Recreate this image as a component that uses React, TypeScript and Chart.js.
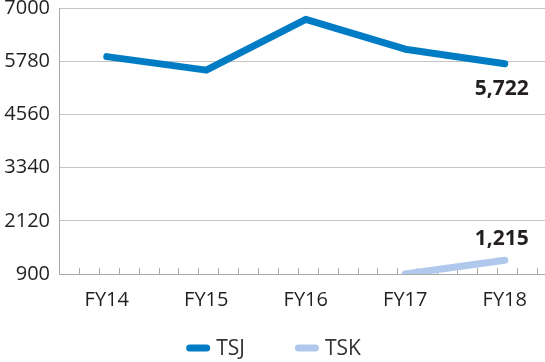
import React, { useEffect, useRef } from "react";
import { Chart, registerables } from "chart.js";

Chart.register(...registerables);

const categories = ["FY14", "FY15", "FY16", "FY17", "FY18"];
const seriesNames = ["TSJ", "TSK"];
const tsjValues: (number | null)[] = [5885, 5575, 6740, 6055, 5722];
const tskValues: (number | null)[] = [null, null, null, 900, 1215];
const yTickValues = [900, 2120, 3340, 4560, 5780, 7000];
const seriesColors = ["#007cc5", "#afc8eb"];

const FONT = "'Open Sans', 'Noto Sans', sans-serif";
const TEXT = "#231f20";

const toPoints = (vals: (number | null)[]) =>
  vals.map((v, i) => ({ x: i, y: v }));

const fmt = (v: number) => v.toLocaleString("en-US");

const minorTicksPlugin = {
  id: "minorTicks",
  beforeDatasetsDraw(chart: any) {
    const xs = chart.scales.x;
    const ctx = chart.ctx;
    const bottom = chart.chartArea.bottom;
    ctx.save();
    ctx.strokeStyle = "#a8a8a8";
    ctx.lineWidth = 1;
    const step = 0.2;
    for (let v = xs.min + step; v < xs.max - 0.01; v += step) {
      const px = Math.round(xs.getPixelForValue(v)) + 0.5;
      ctx.beginPath();
      ctx.moveTo(px, bottom);
      ctx.lineTo(px, bottom - 6);
      ctx.stroke();
    }
    ctx.restore();
  },
};

const lastLabelPlugin = {
  id: "lastLabels",
  afterDatasetsDraw(chart: any) {
    const ctx = chart.ctx;
    ctx.save();
    ctx.font = `bold 21px ${FONT}`;
    ctx.fillStyle = TEXT;
    ctx.textAlign = "center";
    ctx.textBaseline = "middle";
    chart.data.datasets.forEach((ds: any, di: number) => {
      const meta = chart.getDatasetMeta(di);
      const idx = ds.data.length - 1;
      const pt = meta.data[idx];
      const val = ds.data[idx].y;
      if (!pt || val == null) return;
      const dy = di === 0 ? 25 : -21;
      ctx.fillText(fmt(val), pt.x - 3, pt.y + dy);
    });
    ctx.restore();
  },
};

const legendPlugin = {
  id: "customLegend",
  afterDraw(chart: any) {
    const ctx = chart.ctx;
    ctx.save();
    ctx.font = `21px ${FONT}`;
    ctx.textBaseline = "middle";
    ctx.textAlign = "left";
    const boxW = 24;
    const boxH = 7;
    const gapText = 6;
    const gapItems = 50;
    const items = chart.data.datasets.map((ds: any) => ({
      label: ds.label,
      color: ds.borderColor,
      w: boxW + gapText + ctx.measureText(ds.label).width,
    }));
    const total =
      items.reduce((s: number, it: any) => s + it.w, 0) + gapItems * (items.length - 1);
    let x = (chart.width - total) / 2 + 1;
    const y = 348;
    items.forEach((it: any) => {
      ctx.fillStyle = it.color;
      ctx.beginPath();
      (ctx as any).roundRect(x, y - boxH / 2, boxW, boxH, boxH / 2);
      ctx.fill();
      ctx.fillStyle = "#333333";
      ctx.fillText(it.label, x + boxW + gapText, y + 1);
      x += it.w + gapItems;
    });
    ctx.restore();
  },
};

export default function App() {
  const canvasRef = useRef<HTMLCanvasElement | null>(null);

  useEffect(() => {
    if (!canvasRef.current) return;
    const chart = new Chart(canvasRef.current, {
      type: "line",
      data: {
        datasets: [
          {
            label: seriesNames[0],
            data: toPoints(tsjValues),
            borderColor: seriesColors[0],
            backgroundColor: seriesColors[0],
            borderWidth: 7,
            pointRadius: 0,
            borderCapStyle: "round",
            borderJoinStyle: "round",
            spanGaps: false,
          },
          {
            label: seriesNames[1],
            data: toPoints(tskValues),
            borderColor: seriesColors[1],
            backgroundColor: seriesColors[1],
            borderWidth: 7,
            pointRadius: 0,
            borderCapStyle: "round",
            borderJoinStyle: "round",
            spanGaps: false,
          },
        ],
      },
      options: {
        animation: false,
        responsive: false,
        layout: { padding: { top: 8, right: 0, bottom: 0, left: 0 } },
        plugins: {
          legend: { display: false },
          tooltip: { enabled: false },
        },
        scales: {
          x: {
            type: "linear",
            min: -0.48,
            max: 4.404,
            afterBuildTicks: (scale: any) => {
              scale.ticks = categories.map((_, i) => ({ value: i }));
            },
            afterFit: (scale: any) => {
              scale.height = 88;
              scale.paddingLeft = 0;
              scale.paddingRight = 0;
            },
            grid: { display: false, drawTicks: false },
            border: { display: true, color: "#a8a8a8", width: 1 },
            ticks: {
              padding: 14,
              autoSkip: false,
              maxRotation: 0,
              color: TEXT,
              font: { family: FONT, size: 20 },
              callback: (v: any) => categories[Math.round(v)] ?? "",
            },
          },
          y: {
            type: "linear",
            min: 900,
            max: 7000,
            afterBuildTicks: (scale: any) => {
              scale.ticks = yTickValues.map((v) => ({ value: v }));
            },
            afterFit: (scale: any) => {
              scale.width = 59;
              scale.paddingTop = 0;
              scale.paddingBottom = 0;
            },
            grid: { color: "#c4c4c4", lineWidth: 1, drawTicks: false },
            border: { display: true, color: "#a8a8a8", width: 1 },
            ticks: {
              padding: 9,
              color: TEXT,
              font: { family: FONT, size: 20 },
              callback: (v: any) => String(v),
            },
          },
        },
      },
      plugins: [minorTicksPlugin, lastLabelPlugin, legendPlugin],
    } as any);
    return () => chart.destroy();
  }, []);

  return (
    <div style={{ position: "absolute", left: 0, top: 0, width: 545, height: 362, background: "#ffffff" }}>
      <canvas ref={canvasRef} width={545} height={362} style={{ display: "block" }} />
    </div>
  );
}
